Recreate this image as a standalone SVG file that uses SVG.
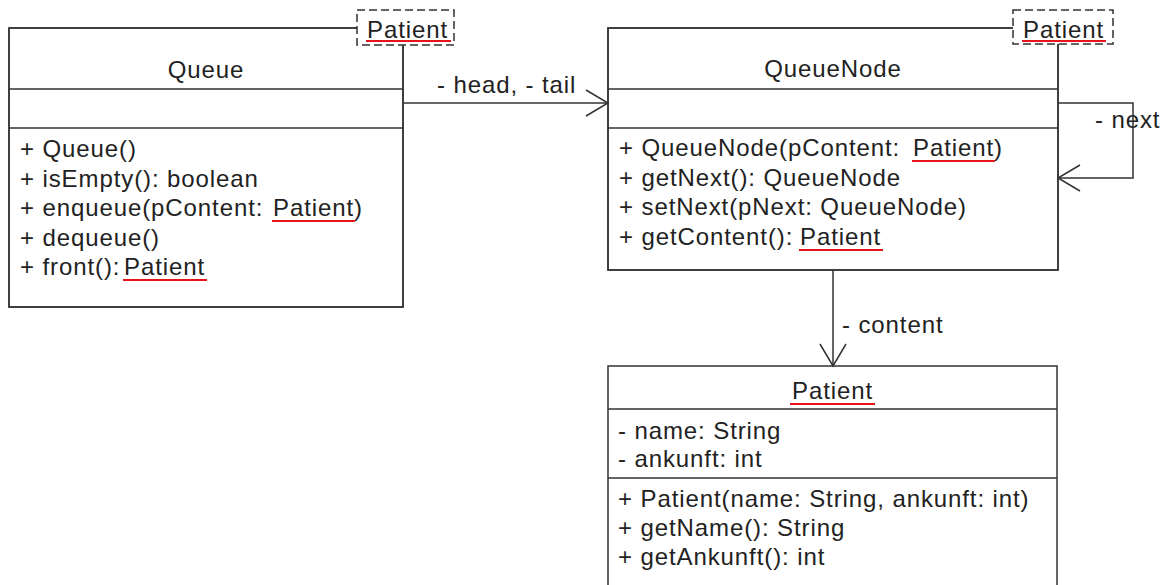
<svg xmlns="http://www.w3.org/2000/svg" width="1166" height="585" viewBox="0 0 1166 585">
  <style>
    text { font-family: "Liberation Sans", Arial, sans-serif; font-size: 24px; letter-spacing: 0.9px; fill: #222; }
    .title { text-anchor: middle; }
    .box { fill: #fff; stroke: #333; stroke-width: 1.5; }
    .line { fill: none; stroke: #333; stroke-width: 1.5; }
    .tmpl { fill: #fff; stroke: #333; stroke-width: 1.5; stroke-dasharray: 8 4; }
    .ul { stroke: #e8141c; stroke-width: 2; }
    .conn { fill: none; stroke: #333; stroke-width: 1.5; marker-end: url(#open); }
  </style>
  <defs>
    <marker id="open" markerUnits="userSpaceOnUse" viewBox="0 0 26 30" refX="24" refY="15" markerWidth="26" markerHeight="30" orient="auto">
      <path d="M2,2 L24,15 L2,28" fill="none" stroke="#333" stroke-width="1.5"/>
    </marker>
  </defs>

  <g id="Queue">
    <rect class="box" x="9" y="28" width="394" height="279" stroke="none"/>
    <path class="line" d="M357,28 H9 V307 H403 V45"/>
    <path class="line" d="M9,89 H403 M9,128 H403"/>
    <rect class="tmpl" x="357" y="10" width="97" height="35"/>
    <text x="367" y="38">Patient</text>
    <line class="ul" x1="366" y1="41" x2="451" y2="41"/>
    <text class="title" x="206" y="78">Queue</text>
    <text x="20" y="157">+ Queue()</text>
    <text x="20" y="186.5">+ isEmpty(): boolean</text>
    <text x="20" y="216">+ enqueue(pContent: <tspan x="273">Patient</tspan>)</text>
    <text x="20" y="245.5">+ dequeue()</text>
    <text x="20" y="275">+ front(): <tspan x="124">Patient</tspan></text>
    <line class="ul" x1="272" y1="221" x2="355" y2="221"/>
    <line class="ul" x1="123" y1="280" x2="207" y2="280"/>
  </g>

  <g id="QueueNode">
    <rect class="box" x="608" y="28" width="450" height="242" stroke="none"/>
    <path class="line" d="M1013,28 H608 V270 H1058 V44"/>
    <path class="line" d="M608,89 H1058 M608,128 H1058"/>
    <rect class="tmpl" x="1013" y="10" width="100" height="34"/>
    <text x="1023" y="38">Patient</text>
    <line class="ul" x1="1022" y1="41" x2="1106" y2="41"/>
    <text class="title" x="833" y="77">QueueNode</text>
    <text x="619" y="156">+ QueueNode(pContent: <tspan x="913">Patient</tspan>)</text>
    <text x="619" y="185.5">+ getNext(): QueueNode</text>
    <text x="619" y="215">+ setNext(pNext: QueueNode)</text>
    <text x="619" y="244.5">+ getContent(): <tspan x="800">Patient</tspan></text>
    <line class="ul" x1="912" y1="161" x2="995" y2="161"/>
    <line class="ul" x1="799" y1="250" x2="883" y2="250"/>
  </g>

  <g id="Patient">
    <rect class="box" x="608" y="366" width="449" height="240"/>
    <path class="line" d="M608,409 H1057 M608,478 H1057"/>
    <text class="title" x="832.5" y="399">Patient</text>
    <line class="ul" x1="790" y1="404" x2="875" y2="404"/>
    <text x="618" y="439">- name: String</text>
    <text x="618" y="467">- ankunft: int</text>
    <text x="618" y="507">+ Patient(name: String, ankunft: int)</text>
    <text x="618" y="536">+ getName(): String</text>
    <text x="618" y="565">+ getAnkunft(): int</text>
  </g>

  <g id="connectors">
    <path class="conn" d="M403,103 H608"/>
    <path class="conn" d="M1058,103 H1133 V178 H1058"/>
    <path class="conn" d="M833,270 V366"/>
    <text x="437" y="93">- head, - tail</text>
    <text x="1095" y="128">- next</text>
    <text x="842" y="333">- content</text>
  </g>
</svg>
